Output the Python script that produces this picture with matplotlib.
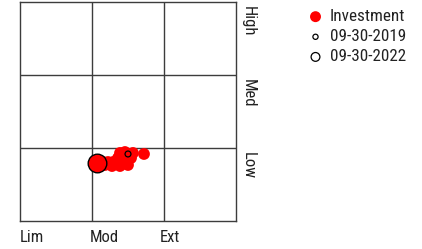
import numpy as np
import matplotlib.pyplot as plt

plt.rcParams['font.family'] = ['Roboto Condensed', 'DejaVu Sans']

# style box trail (x = style, y = size), oldest first
trail_x = [1.50, 1.722, 1.569, 1.458, 1.389, 1.542, 1.444, 1.361, 1.472, 1.500,
           1.375, 1.389, 1.292, 1.222, 1.278, 1.181, 1.153, 1.111, 1.063]
trail_y = [0.918, 0.918, 0.932, 0.945, 0.932, 0.863, 0.863, 0.863, 0.795, 0.767,
           0.795, 0.753, 0.808, 0.808, 0.753, 0.767, 0.808, 0.795, 0.795]
x_labels = ['Lim', 'Mod', 'Ext']
y_labels = ['Low', 'Med', 'High']
start_label = '09-30-2019'
end_label = '09-30-2022'

fig = plt.figure(figsize=(4.22, 2.49), dpi=100)
ax = fig.add_axes([20 / 422, 28 / 249, 216 / 422, 219 / 249])
ax.set_xlim(0, 3)
ax.set_ylim(0, 3)

# trail of dots
ax.scatter(trail_x, trail_y, s=72, color='red', edgecolors='none', zorder=3)
# end point
ax.scatter(trail_x[-1], trail_y[-1], s=180, color='red', edgecolors='black', linewidths=1, zorder=4)
# start point
ax.scatter(trail_x[0], trail_y[0], s=18, facecolors='none', edgecolors='black', linewidths=0.9, zorder=4)

for v in [1, 2]:
    ax.axvline(v, color='#3c3c3c', lw=1)
    ax.axhline(v, color='#3c3c3c', lw=1)
for sp in ax.spines.values():
    sp.set_color('#3c3c3c')
    sp.set_linewidth(1)

ax.set_xticks([])
ax.set_yticks([])

for i, lab in enumerate(x_labels):
    ax.text(i * 0.97, -0.13, lab, ha='left', va='top', fontsize=12, color='#222222')
for i, lab in enumerate(y_labels):
    ax.text(3.06, i + 0.95, lab, ha='left', va='top', rotation=270, fontsize=12, color='#222222')

h1 = ax.scatter([], [], s=62, color='red', edgecolors='none', label='Investment')
h2 = ax.scatter([], [], s=14, facecolors='none', edgecolors='black', linewidths=0.9, label=start_label)
h3 = ax.scatter([], [], s=40, facecolors='none', edgecolors='black', linewidths=0.9, label=end_label)
fig.legend(handles=[h1, h2, h3], loc='upper left', bbox_to_anchor=(0.695, 1.025),
           frameon=False, fontsize=12.3, handlelength=0.8, handletextpad=0.45,
           labelspacing=0.3, labelcolor='#222222')

fig.savefig('out.png', dpi=100)
